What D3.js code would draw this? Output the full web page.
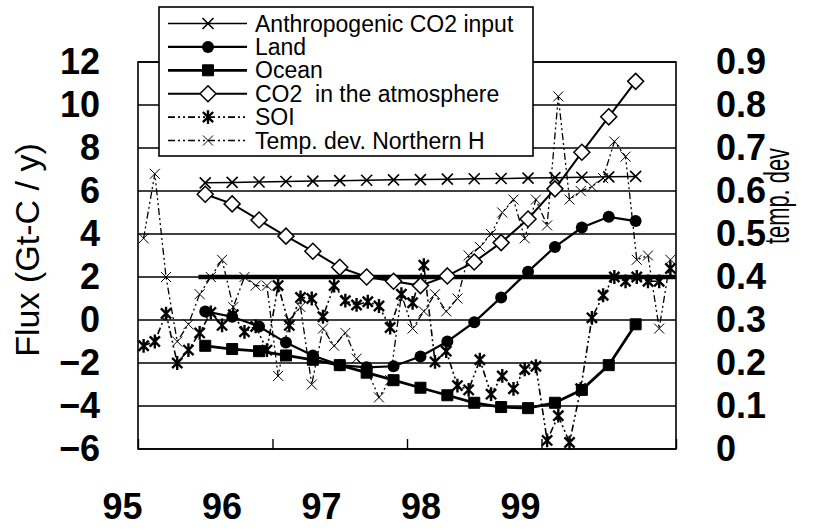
<!DOCTYPE html>
<html>
<head>
<meta charset="utf-8">
<script src="https://cdn.jsdelivr.net/npm/d3@7"></script>
<style>
  body { margin: 0; background: #fff; }
  text { font-family: "Liberation Sans", Arial, sans-serif; fill: #000; }
  .tick text { font-weight: bold; font-size: 36px; }
</style>
</head>
<body>
<svg id="chart" width="813" height="530"></svg>
<script>
// carbon budget series, one point every 0.2 yr from 95.5 to 98.7
var carbonYears   = [95.5, 95.7, 95.9, 96.1, 96.3, 96.5, 96.7, 96.9, 97.1, 97.3, 97.5, 97.7, 97.9, 98.1, 98.3, 98.5, 98.7];
var anthropogenic = [6.38, 6.40, 6.42, 6.44, 6.46, 6.48, 6.50, 6.52, 6.53, 6.55, 6.57, 6.58, 6.60, 6.62, 6.64, 6.66, 6.68];
var land          = [0.40, 0.15, -0.30, -1.05, -1.65, -2.10, -2.20, -2.15, -1.70, -1.00, -0.10, 1.05, 2.25, 3.40, 4.30, 4.80, 4.60];
var ocean         = [-1.20, -1.35, -1.45, -1.65, -1.85, -2.10, -2.45, -2.80, -3.15, -3.50, -3.85, -4.05, -4.10, -3.85, -3.25, -2.10, -0.20];
var co2Atm        = [5.85, 5.40, 4.65, 3.90, 3.20, 2.45, 2.00, 1.80, 1.60, 2.05, 2.70, 3.60, 4.70, 6.10, 7.80, 9.45, 11.10];

// monthly series (Jan 95 .. Dec 98)
var soi = [-1.2, -1.0, 0.3, -2.0, -1.4, -0.6, 0.35, -0.25, 0.25, -0.55, -0.3, -1.4,
            1.6, -0.25, 1.05, 1.0, 0.15, 1.6, 0.9, 0.7, 0.85, 0.65, -0.35, 1.2,
            0.8, 2.55, -1.95, -1.45, -3.05, -3.25, -1.85, -3.45, -2.6, -3.2, -2.3, -2.15,
           -5.6, -4.45, -5.7, -3.2, 0.1, 1.15, 2.0, 1.8, 2.0, 1.8, 1.8, 2.4];
var tempDev = [0.49, 0.64, 0.40, 0.25, 0.29, 0.36, 0.40, 0.44, 0.33, 0.40, 0.38, 0.38,
               0.17, 0.30, 0.33, 0.15, 0.28, 0.24, 0.27, 0.21, 0.18, 0.12, 0.16, 0.36,
               0.28, 0.32, 0.36, 0.32, 0.35, 0.45, 0.47, 0.50, 0.55, 0.58, 0.49, 0.58,
               0.52, 0.82, 0.58, 0.60, 0.61, 0.63, 0.715, 0.68, 0.44, 0.45, 0.28, 0.44];

// thick unlabeled reference line
var refYears = [95.45, 99];
var refValues = [2, 2];

var fluxTicks = [-6, -4, -2, 0, 2, 4, 6, 8, 10, 12];
var tempTicks = [0, 0.1, 0.2, 0.3, 0.4, 0.5, 0.6, 0.7, 0.8, 0.9];
var yearTicks = [95, 96, 97, 98, 99];
var yearLabels = ["95", "96", "97", "98", "99"];

var legendNames = ["Anthropogenic CO2 input", "Land", "Ocean", "CO2  in the atmosphere",
                   "SOI", "Temp. dev. Northern H"];

var plot = {left: 138, right: 676, top: 62, bottom: 449};

var svg = d3.select("#chart");

var x  = d3.scaleLinear().domain([95, 99]).range([plot.left, plot.right]);
var y  = d3.scaleLinear().domain([-6, 12]).range([plot.bottom, plot.top]);
var yT = d3.scaleLinear().domain([0, 0.9]).range([plot.bottom, plot.top]);
var xLab = d3.scalePoint().domain(yearLabels).range([122, 520]);

var months = d3.range(48).map(function(m) { return 95 + (m + 0.5) / 12; });

function pairs(xs, vs) { return xs.map(function(d, i) { return {x: d, v: vs[i]}; }); }

// marker paths, centred on 0,0
function markX(r)   { return "M" + -r + "," + -r + "L" + r + "," + r + "M" + -r + "," + r + "L" + r + "," + -r; }
function markAst(r) { return markX(r * 0.85) + "M0," + (-r * 1.15) + "L0," + (r * 1.15); }
function markSq(r)  { return "M" + -r + "," + -r + "H" + r + "V" + r + "H" + -r + "Z"; }
function markDia(r) { return "M0," + -r + "L" + r + ",0L0," + r + "L" + -r + ",0Z"; }

var series = [
  {name: legendNames[0], data: pairs(carbonYears, anthropogenic), ys: y, width: 1.5, dash: null,
   mark: markX(5.5), fill: "none", mw: 1.6},
  {name: legendNames[1], data: pairs(carbonYears, land), ys: y, width: 2.2, dash: null,
   mark: "circle", fill: "#000", mw: 1},
  {name: legendNames[2], data: pairs(carbonYears, ocean), ys: y, width: 2.8, dash: null,
   mark: markSq(5.5), fill: "#000", mw: 1},
  {name: legendNames[3], data: pairs(carbonYears, co2Atm), ys: y, width: 2, dash: null,
   mark: markDia(8), fill: "#fff", mw: 1.5},
  {name: legendNames[4], data: pairs(months, soi), ys: y, width: 1.6, dash: "7,3,2,3,2,3",
   mark: markAst(6), fill: "none", mw: 2.4},
  {name: legendNames[5], data: pairs(months, tempDev), ys: yT, width: 1.3, dash: "7,3,2,3,2,3",
   mark: markX(5), fill: "none", mw: 1}
];

// horizontal grid lines
svg.append("g").selectAll("line").data(fluxTicks).join("line")
   .attr("x1", plot.left).attr("x2", plot.right)
   .attr("y1", function(d) { return y(d); }).attr("y2", function(d) { return y(d); })
   .attr("stroke", "#000").attr("stroke-width", 1.4);

// plot frame
svg.append("rect")
   .attr("x", plot.left).attr("y", plot.top)
   .attr("width", plot.right - plot.left).attr("height", plot.bottom - plot.top)
   .attr("fill", "none").attr("stroke", "#000").attr("stroke-width", 1.6);

// inner year ticks on the bottom edge
svg.append("g")
   .attr("transform", "translate(0," + plot.bottom + ")")
   .call(d3.axisBottom(x).tickValues(yearTicks).tickSize(-10).tickFormat(""))
   .call(function(g) { g.select(".domain").remove(); })
   .selectAll("line").attr("stroke-width", 1.4);

// thick reference line at 2
svg.append("path")
   .datum(pairs(refYears, refValues))
   .attr("d", d3.line().x(function(d) { return x(d.x); }).y(function(d) { return y(d.v); }))
   .attr("fill", "none").attr("stroke", "#000").attr("stroke-width", 4.5);

// series lines + markers (drawn back to front)
var drawOrder = [5, 4, 0, 3, 1, 2];
drawOrder.forEach(function(k) {
  var s = series[k];
  var line = d3.line().x(function(d) { return x(d.x); }).y(function(d) { return s.ys(d.v); });
  svg.append("path").datum(s.data)
     .attr("d", line)
     .attr("fill", "none").attr("stroke", "#000")
     .attr("stroke-width", s.width)
     .attr("stroke-dasharray", s.dash);
  var g = svg.append("g");
  s.data.forEach(function(d) {
    var px = x(d.x), py = s.ys(d.v);
    if (s.mark === "circle") {
      g.append("circle").attr("cx", px).attr("cy", py).attr("r", 6).attr("fill", "#000");
    } else {
      g.append("path").attr("d", s.mark)
       .attr("transform", "translate(" + px + "," + py + ")")
       .attr("fill", s.fill).attr("stroke", "#000").attr("stroke-width", s.mw);
    }
  });
});

// left axis
svg.append("g")
   .attr("transform", "translate(" + plot.left + ",0)")
   .call(d3.axisLeft(y).tickValues(fluxTicks).tickSize(0).tickPadding(38))
   .call(function(g) { g.select(".domain").remove(); });

// right axis
svg.append("g")
   .attr("transform", "translate(" + plot.right + ",0)")
   .call(d3.axisRight(yT).tickValues(tempTicks).tickSize(0).tickPadding(40)
         .tickFormat(function(d) { return d === 0 ? "0" : d3.format(".1f")(d); }))
   .call(function(g) { g.select(".domain").remove(); });

// year labels
svg.append("g")
   .attr("transform", "translate(0," + plot.bottom + ")")
   .call(d3.axisBottom(xLab).tickSize(0).tickPadding(44))
   .call(function(g) { g.select(".domain").remove(); });

// axis titles
svg.append("text")
   .attr("transform", "translate(39,250)rotate(-90)")
   .attr("text-anchor", "middle")
   .style("font-size", "34px")
   .text("Flux (Gt-C / y)");
svg.append("text")
   .attr("transform", "translate(789,196)rotate(-90)")
   .attr("text-anchor", "middle")
   .attr("textLength", 96).attr("lengthAdjust", "spacingAndGlyphs")
   .style("font-size", "35px")
   .text("temp. dev");

// legend
var leg = svg.append("g");
leg.append("rect").attr("x", 159).attr("y", 7).attr("width", 374).attr("height", 149)
   .attr("fill", "#fff").attr("stroke", "#000").attr("stroke-width", 1.6);
series.forEach(function(s, i) {
  var cy = 23.5 + i * 23.4;
  leg.append("line").attr("x1", 168).attr("x2", 247).attr("y1", cy).attr("y2", cy)
     .attr("stroke", "#000").attr("stroke-width", s.width).attr("stroke-dasharray", s.dash);
  if (s.mark === "circle") {
    leg.append("circle").attr("cx", 208).attr("cy", cy).attr("r", 6).attr("fill", "#000");
  } else {
    leg.append("path").attr("d", s.mark).attr("transform", "translate(208," + cy + ")")
       .attr("fill", s.fill).attr("stroke", "#000").attr("stroke-width", s.mw);
  }
  leg.append("text").attr("x", 255).attr("y", cy).attr("dy", "0.35em")
     .style("font-size", "23px").style("white-space", "pre")
     .text(s.name);
});
</script>
</body>
</html>
